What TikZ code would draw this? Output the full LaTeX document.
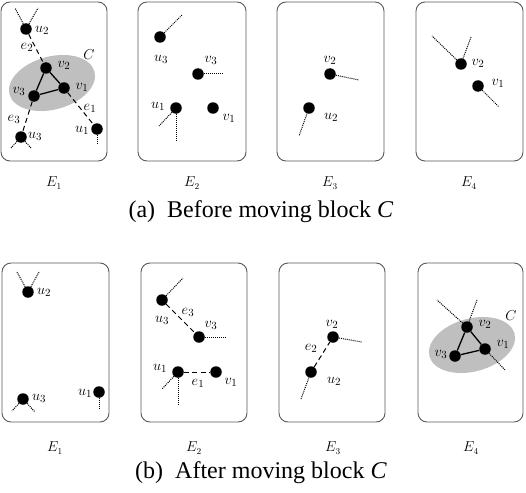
\documentclass[tikz,border=0pt]{standalone}
\usepackage{fontspec}
\setmainfont{Liberation Serif}
\usetikzlibrary{shapes.geometric}
\begin{document}
\begin{tikzpicture}[x=1pt,y=-1pt,
  blk/.style={draw=black!65,line width=0.9pt,rounded corners=9pt},
  dot/.style={circle,fill=black,inner sep=0pt,minimum size=11.5pt},
  lab/.style={inner sep=0pt,font=\fontsize{15}{15}\selectfont},
  elab/.style={inner sep=0pt,font=\fontsize{13.5}{13.5}\selectfont},
  ext/.style={densely dotted,line width=1pt},
  cut/.style={dash pattern=on 5pt off 3.5pt,line width=1pt},
  tri/.style={line width=1.3pt},
  cblock/.style={ellipse,fill=black!25,inner sep=0pt,minimum width=88pt,minimum height=53pt,rotate=15},
  captext/.style={inner sep=0pt,font=\fontsize{24}{24}\selectfont}]
\useasboundingbox (0,0) rectangle (526,492);
% ===== (a) boxes
\draw[blk] (1,2) rectangle (107,161);
\draw[blk] (138,2) rectangle (246,161);
\draw[blk] (277,2) rectangle (384,161);
\draw[blk] (416,2) rectangle (523,161);
% --- a E1
\node[cblock] (ca) at (52,83) {};
\node[lab] at (89,55) {$C$};
\node[dot] (a1u2) at (26,29) {};
\node[dot] (a1v2) at (46,68) {};
\node[dot] (a1v1) at (64,88) {};
\node[dot] (a1v3) at (34,96) {};
\node[dot] (a1u1) at (97,129) {};
\node[dot] (a1u3) at (21,137) {};
\coordinate (a1p1) at (15,8); \coordinate (a1p2) at (38,8);
\coordinate (a1p3) at (97,144);
\coordinate (a1p4) at (11,148); \coordinate (a1p5) at (31,148);
\draw[ext] (a1u2) -- (a1p1); \draw[ext] (a1u2) -- (a1p2);
\draw[ext] (a1u1) -- (a1p3);
\draw[ext] (a1u3) -- (a1p4); \draw[ext] (a1u3) -- (a1p5);
\draw[cut] (a1u2) -- (a1v2);
\draw[cut] (a1v1) -- (a1u1);
\draw[cut] (a1v3) -- (a1u3);
\draw[tri] (a1v1) -- (a1v2) -- (a1v3) -- (a1v1);
\node[lab] at (42,30) {$u_2$};
\node[lab] at (27,47) {$e_2$};
\node[lab] at (64,65) {$v_2$};
\node[lab] at (82,87) {$v_1$};
\node[lab] at (19,91) {$v_3$};
\node[lab] at (90,108) {$e_1$};
\node[lab] at (82,130) {$u_1$};
\node[lab] at (14,119) {$e_3$};
\node[lab] at (35,136) {$u_3$};
% --- a E2
\node[dot] (a2u3) at (160,37) {};
\node[dot] (a2v3) at (198,74) {};
\node[dot] (a2u1) at (176,108) {};
\node[dot] (a2v1) at (213,108) {};
\coordinate (a2p1) at (182,15);
\coordinate (a2p2) at (223,74);
\coordinate (a2p3) at (176,141); \coordinate (a2p4) at (159,126);
\draw[ext] (a2u3) -- (a2p1);
\draw[ext] (a2v3) -- (a2p2);
\draw[ext] (a2u1) -- (a2p3); \draw[ext] (a2u1) -- (a2p4);
\node[lab] at (161,59) {$u_3$};
\node[lab] at (211,60) {$v_3$};
\node[lab] at (158,106) {$u_1$};
\node[lab] at (229,118) {$v_1$};
% --- a E3
\node[dot] (a3v2) at (330,74) {};
\node[dot] (a3u2) at (309,108) {};
\coordinate (a3p1) at (359,80);
\coordinate (a3p2) at (299,136);
\draw[ext] (a3v2) -- (a3p1);
\draw[ext] (a3u2) -- (a3p2);
\node[lab] at (330,60) {$v_2$};
\node[lab] at (331,117) {$u_2$};
% --- a E4
\node[dot] (a4v2) at (461,64) {};
\node[dot] (a4v1) at (478,86) {};
\coordinate (a4p1) at (432,36); \coordinate (a4p2) at (471,37);
\coordinate (a4p3) at (499,107);
\draw[ext] (a4v2) -- (a4p1); \draw[ext] (a4v2) -- (a4p2);
\draw[ext] (a4v1) -- (a4p3);
\node[lab] at (478,63) {$v_2$};
\node[lab] at (498,83) {$v_1$};
% E labels a
\node[elab] at (54,183) {$E_1$};
\node[elab] at (192,183) {$E_2$};
\node[elab] at (330,183) {$E_3$};
\node[elab] at (469,183) {$E_4$};
\node[captext] (capa) at (261,212) {(a)\enspace Before moving block \textit{C}};
% ===== (b) boxes
\draw[blk] (2,263) rectangle (109,422);
\draw[blk] (141,263) rectangle (247,422);
\draw[blk] (279,263) rectangle (385,422);
\draw[blk] (418,263) rectangle (523,422);
% --- b E1
\node[dot] (b1u2) at (28,292) {};
\node[dot] (b1u3) at (23,399) {};
\node[dot] (b1u1) at (99,392) {};
\coordinate (b1p1) at (17,272); \coordinate (b1p2) at (39,272);
\coordinate (b1p3) at (12,411); \coordinate (b1p4) at (35,412);
\coordinate (b1p5) at (99,409);
\draw[ext] (b1u2) -- (b1p1); \draw[ext] (b1u2) -- (b1p2);
\draw[ext] (b1u3) -- (b1p3); \draw[ext] (b1u3) -- (b1p4);
\draw[ext] (b1u1) -- (b1p5);
\node[lab] at (44,292) {$u_2$};
\node[lab] at (39,398) {$u_3$};
\node[lab] at (85,393) {$u_1$};
% --- b E2
\node[dot] (b2u3) at (162,300) {};
\node[dot] (b2v3) at (199,337) {};
\node[dot] (b2u1) at (178,372) {};
\node[dot] (b2v1) at (216,372) {};
\coordinate (b2p1) at (183,278);
\coordinate (b2p2) at (226,337);
\coordinate (b2p3) at (178,404); \coordinate (b2p4) at (162,389);
\draw[ext] (b2u3) -- (b2p1);
\draw[ext] (b2v3) -- (b2p2);
\draw[ext] (b2u1) -- (b2p3); \draw[ext] (b2u1) -- (b2p4);
\draw[cut] (b2u3) -- (b2v3);
\draw[cut] (b2u1) -- (b2v1);
\node[lab] at (162,320) {$u_3$};
\node[lab] at (188,312) {$e_3$};
\node[lab] at (211,325) {$v_3$};
\node[lab] at (160,368) {$u_1$};
\node[lab] at (198,383) {$e_1$};
\node[lab] at (231,382) {$v_1$};
% --- b E3
\node[dot] (b3v2) at (333,337) {};
\node[dot] (b3u2) at (311,372) {};
\coordinate (b3p1) at (362,342);
\coordinate (b3p2) at (301,399);
\draw[ext] (b3v2) -- (b3p1);
\draw[ext] (b3u2) -- (b3p2);
\draw[cut] (b3u2) -- (b3v2);
\node[lab] at (332,324) {$v_2$};
\node[lab] at (311,348) {$e_2$};
\node[lab] at (334,381) {$u_2$};
% --- b E4
\node[cblock] (cb) at (472,345) {};
\node[lab] at (511,316) {$C$};
\node[dot] (b4v2) at (467,327) {};
\node[dot] (b4v1) at (485,349) {};
\node[dot] (b4v3) at (455,356) {};
\coordinate (b4p1) at (437,300); \coordinate (b4p2) at (477,300);
\coordinate (b4p3) at (505,370);
\draw[ext] (b4v2) -- (b4p1); \draw[ext] (b4v2) -- (b4p2);
\draw[ext] (b4v1) -- (b4p3);
\draw[tri] (b4v1) -- (b4v2) -- (b4v3) -- (b4v1);
\node[lab] at (485,324) {$v_2$};
\node[lab] at (503,344) {$v_1$};
\node[lab] at (441,354) {$v_3$};
% E labels b
\node[elab] at (55,448) {$E_1$};
\node[elab] at (194,448) {$E_2$};
\node[elab] at (333,448) {$E_3$};
\node[elab] at (471,448) {$E_4$};
\node[captext] (capb) at (261,473) {(b)\enspace After moving block \textit{C}};
\end{tikzpicture}
\end{document}
